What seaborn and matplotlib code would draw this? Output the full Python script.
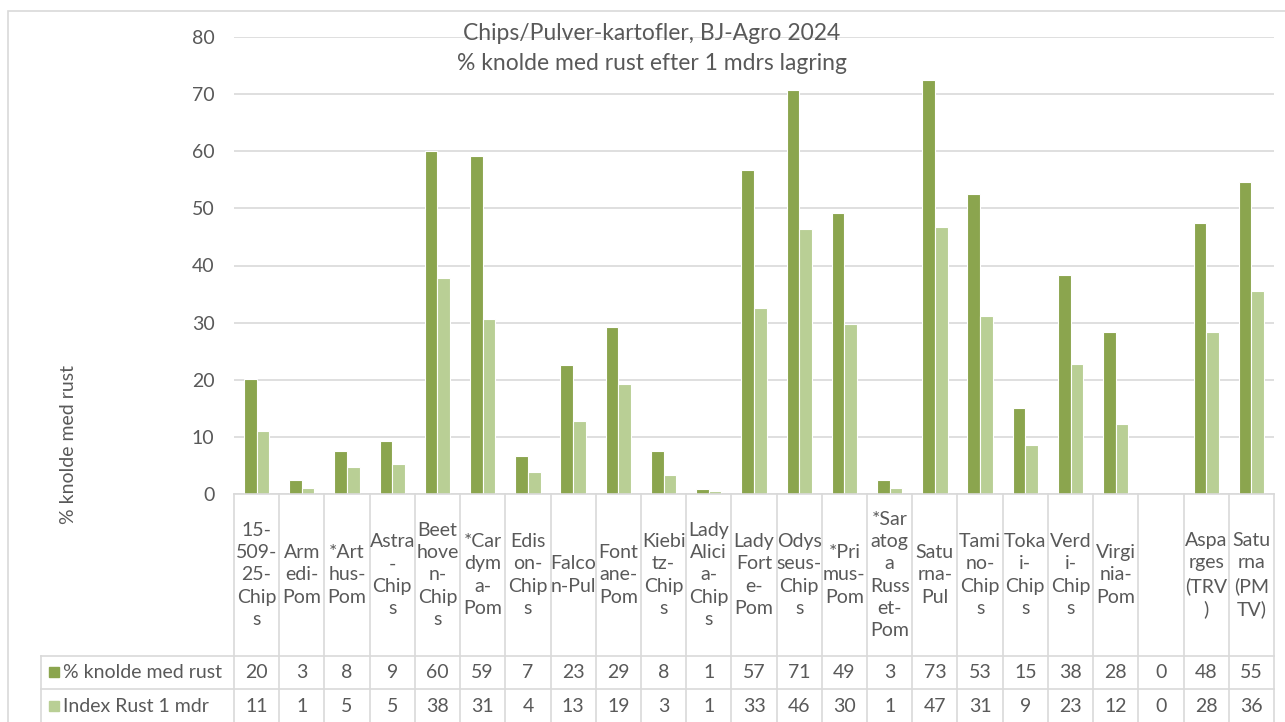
import numpy as np
import pandas as pd
import seaborn as sns
import matplotlib.pyplot as plt
from matplotlib.patches import Rectangle

# data
labels = ["15-\n509-\n25-\nChip\ns", "Arm\nedi-\nPom", "*Art\nhus-\nPom", "Astra\n-\nChip\ns",
          "Beet\nhove\nn-\nChip\ns", "*Car\ndym\na-\nPom", "Edis\non-\nChip\ns", "Falco\nn-Pul",
          "Font\nane-\nPom", "Kiebi\ntz-\nChip\ns", "Lady\nAlici\na-\nChip\ns", "Lady\nFort\ne-\nPom",
          "Odys\nseus-\nChip\ns", "*Pri\nmus-\nPom", "*Sar\natog\na\nRuss\net-\nPom", "Satu\nrna-\nPul",
          "Tami\nno-\nChip\ns", "Toka\ni-\nChip\ns", "Verd\ni-\nChip\ns", "Virgi\nnia-\nPom",
          "", "Aspa\nrges\n(TRV\n)", "Satu\nrna\n(PM\nTV)"]
rust_pct = [20.2, 2.5, 7.5, 9.2, 60.0, 59.2, 6.7, 22.5, 29.2, 7.5, 0.8, 56.7,
            70.8, 49.2, 2.5, 72.5, 52.5, 15.0, 38.3, 28.3, 0, 47.5, 54.6]
index_rust = [11.1, 1.1, 4.7, 5.2, 37.8, 30.6, 3.9, 12.8, 19.2, 3.3, 0.6, 32.5,
              46.4, 29.8, 1.1, 46.7, 31.1, 8.6, 22.8, 12.2, 0, 28.3, 35.5]
series = ["% knolde med rust", "Index Rust 1 mdr"]
colors = ["#8BA54E", "#B9CF95"]

n = len(labels)
df = pd.DataFrame({
    "pos": list(range(n)) * 2,
    "value": rust_pct + index_rust,
    "serie": [series[0]] * n + [series[1]] * n,
})

plt.rcParams['font.family'] = ['Lato', 'DejaVu Sans']
grey = "#595959"
line_c = "#D9D9D9"
W, H = 1285, 722
fs = 14

fig = plt.figure(figsize=(W / 100, H / 100), dpi=100)
ax = fig.add_axes([234 / W, (H - 494) / H, 1040 / W, 457 / H])

sns.barplot(data=df, x="pos", y="value", hue="serie", hue_order=series,
            palette=colors, width=0.56, edgecolor="white", linewidth=0.8,
            saturation=1, legend=False, ax=ax)

ax.set_xlim(-0.5, n - 0.5)
ax.set_ylim(0, 80)
ax.set_yticks(np.arange(0, 81, 10))
ax.yaxis.grid(True, color=line_c, lw=1.2)
ax.set_axisbelow(True)
for s in ax.spines.values():
    s.set_visible(False)
ax.tick_params(axis="y", length=0, pad=14, labelsize=fs, labelcolor=grey)
ax.tick_params(axis="x", length=0, labelbottom=False)
ax.set_xlabel("")
ax.set_ylabel("")


def ya(py):
    return (494 - py) / 457


trans = ax.get_xaxis_transform()
leg_x = (41 - 234) / 1040

# table grid
for b in np.arange(-0.5, n, 1.0):
    ax.plot([b, b], [ya(494), ya(740)], color=line_c, lw=1.2, transform=trans, clip_on=False)
ax.plot([0, 1], [ya(494), ya(494)], color=line_c, lw=1.2, transform=ax.transAxes, clip_on=False)
for py in [656, 689]:
    ax.plot([leg_x, 1], [ya(py), ya(py)], color=line_c, lw=1.2, transform=ax.transAxes, clip_on=False)
ax.plot([leg_x, leg_x], [ya(656), ya(740)], color=line_c, lw=1.2, transform=ax.transAxes, clip_on=False)

# header labels
for i, lab in enumerate(labels):
    ax.text(i, ya(575), lab, transform=trans, ha="center", va="center",
            fontsize=fs, color=grey, linespacing=1.38)

# value rows
for row, (vals, py) in enumerate([(rust_pct, 672), (index_rust, 706)]):
    ax.plot([(54 - 234) / 1040], [ya(py)], marker="s", ms=7, color=colors[row],
            transform=ax.transAxes, clip_on=False)
    ax.text((63 - 234) / 1040, ya(py), series[row], transform=ax.transAxes,
            ha="left", va="center", fontsize=fs, color=grey)
    for i, v in enumerate(vals):
        ax.text(i, ya(py), str(int(v + 0.5)), transform=trans, ha="center",
                va="center", fontsize=fs, color=grey)

# titles
fig.text(652 / W, 1 - 33 / H, "Chips/Pulver-kartofler, BJ-Agro 2024", ha="center",
         va="center", fontsize=16.5, color=grey)
fig.text(652 / W, 1 - 63 / H, "% knolde med rust efter 1 mdrs lagring", ha="center",
         va="center", fontsize=16.5, color=grey)
fig.text(68 / W, 1 - 445 / H, "% knolde med rust", rotation=90, ha="center",
         va="center", fontsize=fs, color=grey)

# chart frame
fig.add_artist(Rectangle((8 / W, -0.5), 1.5, 1.5 - 11 / H, transform=fig.transFigure,
                         fill=False, edgecolor=line_c, lw=1.2))

fig.savefig("out.png", dpi=100)
